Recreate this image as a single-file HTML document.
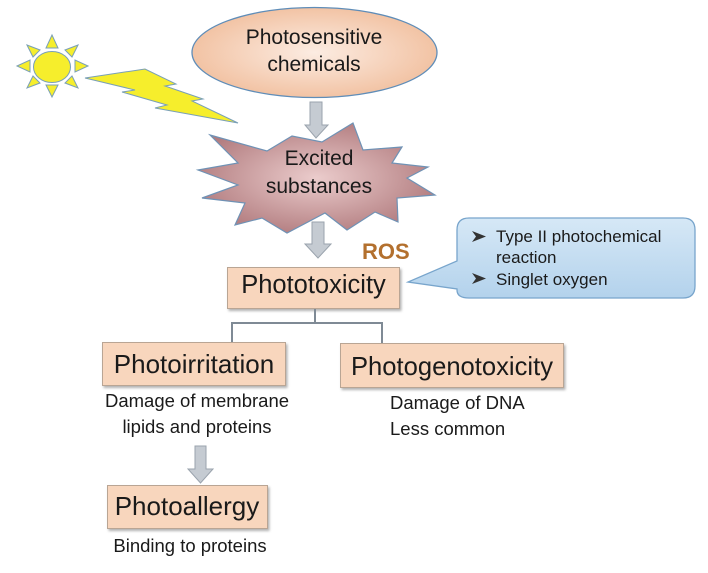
<!DOCTYPE html>
<html><head><meta charset="utf-8"><style>
html,body{margin:0;padding:0;background:#fff;}
svg{display:block;}
text{font-family:"Liberation Sans",sans-serif;fill:#1a1a1a;}
</style></head><body>
<svg width="708" height="573" viewBox="0 0 708 573" xmlns="http://www.w3.org/2000/svg">
<defs>
<radialGradient id="ell" cx="50%" cy="50%" r="55%">
<stop offset="0" stop-color="#fcece2"/><stop offset="1" stop-color="#f1bf9e"/>
</radialGradient>
<radialGradient id="star" cx="50%" cy="50%" r="55%">
<stop offset="0" stop-color="#ebcccc"/><stop offset="1" stop-color="#b17b7e"/>
</radialGradient>
<linearGradient id="call" x1="0" y1="0" x2="0" y2="1">
<stop offset="0" stop-color="#d6e8f6"/><stop offset="1" stop-color="#b3d2ec"/>
</linearGradient>
<filter id="sh" x="-10%" y="-10%" width="130%" height="140%">
<feDropShadow dx="1.5" dy="2" stdDeviation="1.2" flood-color="#000" flood-opacity="0.3"/>
</filter>
</defs>
<rect width="708" height="573" fill="#fff"/>

<!-- Sun -->
<g fill="#f6ee2c" stroke="#7aa0b6" stroke-width="1">
<polygon points="52,35 46,48 58,48"/>
<polygon points="52,97 46,85 58,85"/>
<polygon points="17,66 30,60 30,72"/>
<polygon points="88,66 75,60 75,72"/>
<polygon points="27,45 40,50 33,57"/>
<polygon points="78,45 65,50 72,57"/>
<polygon points="27,88 33,76 40,83"/>
<polygon points="78,88 72,76 65,83"/>
<ellipse cx="52" cy="67" rx="18.5" ry="15.5"/>
</g>
<!-- Lightning -->
<polygon points="85,78 145,69 176,84 165,86 203,99 192,101 238,123 155,108 167,105 122,92 135,90" fill="#f6ee2c" stroke="#7aa0b6" stroke-width="1"/>

<!-- Ellipse -->
<ellipse cx="314.5" cy="52.5" rx="122.5" ry="45" fill="url(#ell)" stroke="#5f8db8" stroke-width="1.3"/>
<text x="314" y="44" font-size="21" text-anchor="middle">Photosensitive</text>
<text x="314" y="71" font-size="21" text-anchor="middle">chemicals</text>

<!-- Star -->
<polygon points="210,135 267,151 292,136 322,142 353,123 363,150 402,147 392,163 428,167 407,178 435,195 397,198 398,222 375,212 347,230 325,213 287,233 262,218 235,225 245,203 202,198 238,185 198,170 238,163" fill="url(#star)" stroke="#6f92b5" stroke-width="1.2"/>
<text x="319" y="165" font-size="21" text-anchor="middle">Excited</text>
<text x="319" y="193" font-size="21" text-anchor="middle">substances</text>

<!-- Arrow 1 -->
<polygon points="310,102 322,102 322,125 328,125 316,138 305,125 310,125" fill="#c5cbd2" stroke="#9aa3ad" stroke-width="1"/>
<!-- Arrow 2 -->
<polygon points="312,222 324,222 324,244 331,244 318,258 305,244 312,244" fill="#c5cbd2" stroke="#9aa3ad" stroke-width="1"/>
<!-- Arrow 3 -->
<polygon points="195,446 206,446 206,469 213,469 200.5,483 188,469 195,469" fill="#c5cbd2" stroke="#9aa3ad" stroke-width="1"/>

<text x="362" y="259" font-size="22" font-weight="bold" style="fill:#b3702e">ROS</text>

<!-- Callout -->
<path d="M469,218 H683 Q695,218 695,230 V286 Q695,298 683,298 H469 Q457,298 457,290 V289 L408,282 L457,261 V230 Q457,218 469,218 Z" fill="url(#call)" stroke="#78a5cc" stroke-width="1.3"/>
<polygon points="472,231 486,236.5 472,242 476,236.5" fill="#333"/>
<polygon points="472,273 486,278.5 472,284 476,278.5" fill="#333"/>
<text x="496" y="242" font-size="17">Type II photochemical</text>
<text x="496" y="263" font-size="17">reaction</text>
<text x="496" y="285" font-size="17">Singlet oxygen</text>

<!-- Boxes -->
<g fill="#f8d6bd" stroke="#b9a594" stroke-width="1" filter="url(#sh)">
<rect x="227.5" y="267.5" width="172" height="41"/>
<rect x="102.5" y="342.5" width="183" height="43"/>
<rect x="340.5" y="343.5" width="223" height="44"/>
<rect x="107.5" y="485.5" width="160" height="43"/>
</g>
<text x="313.5" y="293" font-size="25.5" text-anchor="middle">Phototoxicity</text>
<text x="194" y="373" font-size="26" text-anchor="middle">Photoirritation</text>
<text x="452" y="375" font-size="25.6" text-anchor="middle">Photogenotoxicity</text>
<text x="187" y="515" font-size="26" text-anchor="middle">Photoallergy</text>

<!-- Connector -->
<g fill="none" stroke="#7f8a95" stroke-width="2">
<path d="M315,309 V323 M232,342 V323 H382 V343"/>
</g>

<!-- Descriptions -->
<text x="197" y="407" font-size="18.5" text-anchor="middle">Damage of membrane</text>
<text x="197" y="433" font-size="18.5" text-anchor="middle">lipids and proteins</text>
<text x="390" y="409" font-size="18.5">Damage of DNA</text>
<text x="390" y="435" font-size="18.5">Less common</text>
<text x="190" y="552" font-size="18.5" text-anchor="middle">Binding to proteins</text>
</svg>
</body></html>
